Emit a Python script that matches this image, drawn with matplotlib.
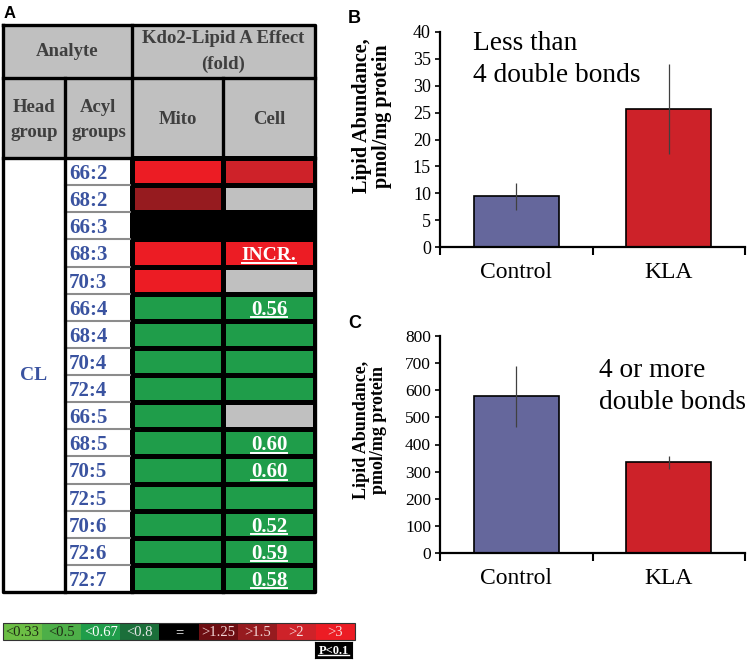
import numpy as np
import matplotlib
matplotlib.use('Agg')
import matplotlib.pyplot as plt
from matplotlib.colors import ListedColormap
from matplotlib.patches import Rectangle

plt.rcParams['font.family'] = ['Liberation Serif', 'DejaVu Serif']

# ---------------- data ----------------
head_group = 'CL'
acyl_groups = ['66:2', '68:2', '66:3', '68:3', '70:3', '66:4', '68:4', '70:4',
               '72:4', '66:5', '68:5', '70:5', '72:5', '70:6', '72:6', '72:7']
mito_effect = ['>3', '>1.5', '=', '>3', '>3', '<0.67', '<0.67', '<0.67', '<0.67',
               '<0.67', '<0.67', '<0.67', '<0.67', '<0.67', '<0.67', '<0.67']
cell_effect = ['>2', 'ND', '=', '>3', 'ND', '<0.67', '<0.67', '<0.67', '<0.67',
               'ND', '<0.67', '<0.67', '<0.67', '<0.67', '<0.67', '<0.67']
cell_labels = ['', '', '', 'INCR.', '', '0.56', '', '', '', '', '0.60', '0.60',
               '', '0.52', '0.59', '0.58']

scale_bins = ['<0.33', '<0.5', '<0.67', '<0.8', '=', '>1.25', '>1.5', '>2', '>3']
scale_colors = ['#6CBE45', '#4DAF48', '#1F9D4A', '#1B6F3A', '#000000',
                '#6D0E12', '#961B1F', '#CE2229', '#EC1C24']
scale_text_colors = ['#1E2A14', '#1E2A14', 'white', '#E8E8E8', 'white',
                     '#F2D4D4', '#F2D4D4', '#F6DCDC', '#F6DCDC']
nd_color = '#C0C0C0'
sig_label = 'P<0.1'

groups = ['Control', 'KLA']
bar_colors = ['#65679C', '#CD2229']
low_db_mean = [9.4, 25.7]
low_db_err = [2.6, 8.4]
high_db_mean = [577, 335]
high_db_err = [112, 24]

# ---------------- figure ----------------
W, H = 747, 661
fig = plt.figure(figsize=(W / 100, H / 100), dpi=100)


def px_axes(x0, y0, x1, y1):
    return fig.add_axes([x0 / W, 1 - y1 / H, (x1 - x0) / W, (y1 - y0) / H])


# ---------------- panel A: table ----------------
tx0, ty0, tx1, ty1 = 3, 25, 315, 592
ax = px_axes(tx0, ty0, tx1, ty1)
tw, th = tx1 - tx0, ty1 - ty0
ax.set_xlim(0, tw)
ax.set_ylim(th, 0)
ax.axis('off')
col_edges = [0, 62, 129, 220, 312]
hdr1, hdr2 = 53, 133
n = len(acyl_groups)
rh = (th - hdr2) / n
row_edges = hdr2 + np.arange(n + 1) * rh
row_mid = (row_edges[:-1] + row_edges[1:]) / 2

ax.add_patch(Rectangle((0, 0), tw, hdr2, fc='#C0C0C0', ec='none'))
ax.add_patch(Rectangle((0, hdr2), col_edges[2], th - hdr2, fc='white', ec='none'))

codes_list = scale_bins + ['ND']
codes = np.array([[codes_list.index(m), codes_list.index(c)]
                  for m, c in zip(mito_effect, cell_effect)])
cmap = ListedColormap(scale_colors + [nd_color])
ax.pcolormesh(col_edges[2:], row_edges, codes, cmap=cmap, vmin=-0.5,
              vmax=len(codes_list) - 0.5, edgecolors='black', linewidth=2.2)

for y in row_edges[1:-1]:
    ax.plot([col_edges[1], col_edges[2]], [y, y], color='#8C8C8C', lw=1.5)

lk = dict(color='black', lw=2.4, clip_on=False, solid_capstyle='projecting')
ax.plot([0, tw], [hdr1, hdr1], **lk)
ax.plot([0, tw], [hdr2, hdr2], **lk)
ax.plot([col_edges[1]] * 2, [hdr1, th], **lk)
ax.plot([col_edges[2]] * 2, [0, th], **lk)
ax.plot([col_edges[3]] * 2, [hdr1, th], **lk)
ax.plot([0, tw, tw, 0, 0], [0, 0, th, th, 0], **lk)

hdr_kw = dict(fontweight='bold', fontsize=13.5, color='#3F3F3F', ha='center',
              va='center', linespacing=1.6)
ax.text(col_edges[2] / 2, hdr1 / 2, 'Analyte', **hdr_kw)
ax.text((col_edges[2] + col_edges[4]) / 2, hdr1 / 2, 'Kdo2-Lipid A Effect\n(fold)', **hdr_kw)
hy = (hdr1 + hdr2) / 2 + 2
ax.text((col_edges[0] + col_edges[1]) / 2, hy, 'Head\ngroup', **hdr_kw)
ax.text((col_edges[1] + col_edges[2]) / 2, hy, 'Acyl\ngroups', **hdr_kw)
ax.text((col_edges[2] + col_edges[3]) / 2, hy, 'Mito', **hdr_kw)
ax.text((col_edges[3] + col_edges[4]) / 2, hy, 'Cell', **hdr_kw)

blue = '#3A53A0'
for y, lab in zip(row_mid, acyl_groups):
    ax.text(col_edges[1] + 4, y + 7.5, lab, ha='left', va='baseline',
            fontweight='bold', fontsize=15, color=blue)
ax.text(col_edges[1] / 2, (hdr2 + th) / 2, head_group, ha='center', va='center',
        fontweight='bold', fontsize=14, color=blue)

cell_texts = []
for y, lab in zip(row_mid, cell_labels):
    if lab:
        fs = 14 if lab.startswith('I') else 15
        t = ax.text((col_edges[3] + col_edges[4]) / 2, y + 7.5, lab, ha='center',
                    va='baseline', fontweight='bold', fontsize=fs, color='white')
        cell_texts.append((t, y + 7.5))

# ---------------- colour scale ----------------
lax = px_axes(3, 623, 355, 640)
lax.pcolormesh(np.arange(len(scale_bins) + 1), [0, 1],
               np.arange(len(scale_bins))[None, :],
               cmap=ListedColormap(scale_colors), vmin=-0.5, vmax=len(scale_bins) - 0.5)
lax.set_xlim(0, len(scale_bins))
lax.set_ylim(0, 1)
lax.axis('off')
lax.add_patch(Rectangle((0, 0), len(scale_bins), 1, fc='none', ec='#333333', lw=0.8, clip_on=False))
for i, (lab, tc) in enumerate(zip(scale_bins, scale_text_colors)):
    lax.text(i + 0.5, 0.45, lab, ha='center', va='center', fontsize=10.5, color=tc)

sax = px_axes(315, 642, 352, 658)
sax.set_xlim(0, 1)
sax.set_ylim(0, 1)
sax.set_xticks([])
sax.set_yticks([])
sax.set_facecolor('black')
st = sax.text(0.5, 0.28, sig_label, ha='center', va='baseline', fontsize=9,
              fontweight='bold', color='white')


# ---------------- panels B & C ----------------
def bar_panel(axb, means, errs, ymax, ystep, tick_fs):
    x = np.arange(len(groups))
    axb.bar(x, means, width=0.56, color=bar_colors, edgecolor='black',
            linewidth=1.2, zorder=2)
    axb.errorbar(x, means, yerr=errs, fmt='none', ecolor='#404040',
                 elinewidth=0.9, capsize=0, zorder=3)
    axb.set_xlim(-0.5, len(groups) - 0.5)
    axb.set_ylim(0, ymax)
    axb.set_yticks(np.arange(0, ymax + ystep / 2, ystep))
    axb.set_xticks(np.arange(len(groups) + 1) - 0.5)
    axb.set_xticklabels([])
    axb.set_xticks(x, labels=groups, minor=True)
    axb.tick_params(axis='x', which='major', direction='out', length=6, width=1.5)
    axb.tick_params(axis='x', which='minor', length=0, pad=11, labelsize=17)
    axb.tick_params(axis='y', direction='out', length=3.5, width=1.2,
                    labelsize=tick_fs, pad=3)
    for s in ['top', 'right']:
        axb.spines[s].set_visible(False)
    for s in ['left', 'bottom']:
        axb.spines[s].set_linewidth(1.6)
    axb.patch.set_visible(False)


axB = px_axes(440, 32, 745, 247)
bar_panel(axB, low_db_mean, low_db_err, 40, 5, 13)
axB.text(0.108, 1.005, 'Less than\n4 double bonds', transform=axB.transAxes,
         fontsize=19.7, va='top', ha='left', linespacing=1.37)

axC = px_axes(440, 336, 745, 553)
bar_panel(axC, high_db_mean, high_db_err, 800, 100, 12.5)
axC.text(0.521, 0.899, '4 or more\ndouble bonds', transform=axC.transAxes,
         fontsize=19.7, va='top', ha='left', linespacing=1.37)

ylab = 'Lipid Abundance,\npmol/mg protein'
fig.text(372 / W, 1 - 116 / H, ylab, rotation=90, ha='center', va='center',
         fontweight='bold', fontsize=14.5, linespacing=1.0)
fig.text(370 / W, 1 - 430 / H, ylab, rotation=90, ha='center', va='center',
         fontweight='bold', fontsize=13, linespacing=1.0)

lett = dict(family=['Liberation Sans', 'DejaVu Sans'], fontweight='bold', va='baseline')
fig.text(4 / W, 1 - 18 / H, 'A', fontsize=12, **lett)
fig.text(348 / W, 1 - 23 / H, 'B', fontsize=13, **lett)
fig.text(348 / W, 1 - 328 / H, 'C', fontsize=13, **lett)

# ---------------- underlines ----------------
fig.canvas.draw()
inv = ax.transData.inverted()
for t, yb in cell_texts:
    bb = t.get_window_extent()
    (xa, _), (xb, _) = inv.transform([(bb.x0, 0), (bb.x1, 0)])
    ax.plot([xa, xb], [yb + 2.5, yb + 2.5], color='white', lw=1.4)
bb = st.get_window_extent()
sinv = sax.transAxes.inverted()
(xa, _), (xb, _) = sinv.transform([(bb.x0, 0), (bb.x1, 0)])
sax.plot([xa, xb], [0.16, 0.16], color='white', lw=1.0)

fig.savefig('out.png', dpi=100)
